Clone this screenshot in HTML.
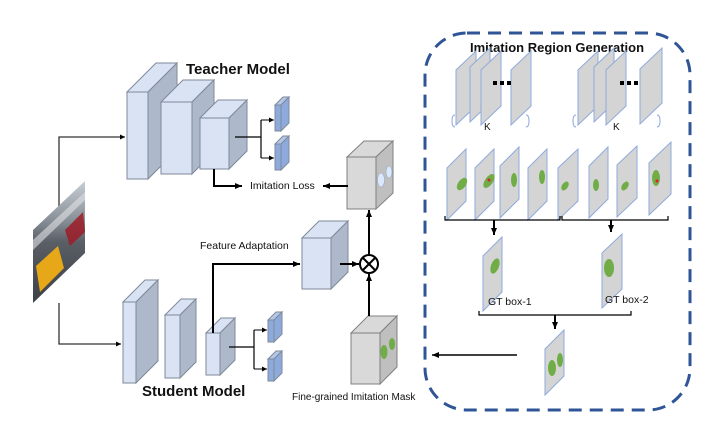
<!DOCTYPE html>
<html><head><meta charset="utf-8"><style>
html,body{margin:0;padding:0;background:#fff;}
svg{display:block;}
text{font-family:"Liberation Sans",sans-serif;fill:#111;}
</style></head><body>
<svg width="727" height="424" viewBox="0 0 727 424" xmlns="http://www.w3.org/2000/svg">
<defs>
<marker id="a" markerWidth="8" markerHeight="8" refX="7" refY="4" orient="auto" markerUnits="userSpaceOnUse"><path d="M0,1 L7,4 L0,7 z" fill="#000"/></marker>
<marker id="as" markerWidth="6" markerHeight="6" refX="5" refY="3" orient="auto" markerUnits="userSpaceOnUse"><path d="M0,0.5 L5,3 L0,5.5 z" fill="#000"/></marker>
<linearGradient id="img" x1="0" y1="0" x2="0" y2="1">
<stop offset="0" stop-color="#c8ced4"/><stop offset="0.3" stop-color="#8d949c"/><stop offset="0.5" stop-color="#5a5f66"/><stop offset="0.75" stop-color="#4a4e54"/><stop offset="1" stop-color="#3f4348"/>
</linearGradient>
</defs>

<!-- input lines -->
<polyline points="59,230 59,137 125,137" fill="none" stroke="#333" stroke-width="1.3" marker-end="url(#as)"/>
<polyline points="59,303 59,344 121,344" fill="none" stroke="#333" stroke-width="1.3" marker-end="url(#as)"/>

<!-- input image -->
<polygon points="33,230 85,181 85,253 33,303" fill="url(#img)"/>
<polygon points="36,266 58,246 64,268 40,292" fill="#e6a818"/>
<polygon points="65,230 83,212 85,232 70,246" fill="#9c1c28" opacity="0.85"/>
<polygon points="33,240 85,192 85,200 33,250" fill="#dfe3e6" opacity="0.6"/>

<g stroke="#7f8a99" stroke-width="1">
<polygon points="127,92 156,63 177,63 148,92" fill="#dae3f3"/><polygon points="148,92 177,63 177,150 148,179" fill="#adb9ca"/><rect x="127" y="92" width="21" height="87" fill="#dae3f3"/>
<polygon points="161,102 183,80 214,80 192,102" fill="#dae3f3"/><polygon points="192,102 214,80 214,152 192,174" fill="#adb9ca"/><rect x="161" y="102" width="31" height="72" fill="#dae3f3"/>
<polygon points="200,118 218,100 247,100 229,118" fill="#dae3f3"/><polygon points="229,118 247,100 247,151 229,169" fill="#adb9ca"/><rect x="200" y="118" width="29" height="51" fill="#dae3f3"/>
<polygon points="275,105 283,97 289,97 281,105" fill="#b4c7e7"/><polygon points="281,105 289,97 289,123 281,131" fill="#8ea9db"/><rect x="275" y="105" width="6" height="26" fill="#8ea9db"/>
<polygon points="275,144 283,136 289,136 281,144" fill="#b4c7e7"/><polygon points="281,144 289,136 289,162 281,170" fill="#8ea9db"/><rect x="275" y="144" width="6" height="26" fill="#8ea9db"/>
<polygon points="123,302 145,280 158,280 136,302" fill="#dae3f3"/><polygon points="136,302 158,280 158,361 136,383" fill="#adb9ca"/><rect x="123" y="302" width="13" height="81" fill="#dae3f3"/>
<polygon points="165,315 181,299 196,299 180,315" fill="#dae3f3"/><polygon points="180,315 196,299 196,362 180,378" fill="#adb9ca"/><rect x="165" y="315" width="15" height="63" fill="#dae3f3"/>
<polygon points="206,333 221,318 235,318 220,333" fill="#dae3f3"/><polygon points="220,333 235,318 235,360 220,375" fill="#adb9ca"/><rect x="206" y="333" width="14" height="42" fill="#dae3f3"/>
<polygon points="268,320 276,312 282,312 274,320" fill="#b4c7e7"/><polygon points="274,320 282,312 282,334 274,342" fill="#8ea9db"/><rect x="268" y="320" width="6" height="22" fill="#8ea9db"/>
<polygon points="268,359 276,351 282,351 274,359" fill="#b4c7e7"/><polygon points="274,359 282,351 282,373 274,381" fill="#8ea9db"/><rect x="268" y="359" width="6" height="22" fill="#8ea9db"/>
<polygon points="302,238 319,221 348,221 331,238" fill="#dae3f3"/><polygon points="331,238 348,221 348,272 331,289" fill="#adb9ca"/><rect x="302" y="238" width="29" height="51" fill="#dae3f3"/>
</g>
<g stroke="#808080" stroke-width="1">
<polygon points="347,157 364,141 393,141 376,157" fill="#d9d9d9"/><polygon points="376,157 393,141 393,193 376,209" fill="#bfbfbf"/><rect x="347" y="157" width="29" height="52" fill="#d9d9d9"/>
<polygon points="351,333 368,316 397,316 380,333" fill="#d9d9d9"/><polygon points="380,333 397,316 397,367 380,384" fill="#bfbfbf"/><rect x="351" y="333" width="29" height="51" fill="#d9d9d9"/>
</g>
<ellipse cx="381" cy="180" rx="3.5" ry="7" fill="#dae8fc" stroke="#9ab" stroke-width="0.6"/>
<ellipse cx="389" cy="172" rx="3" ry="6" fill="#dae8fc" stroke="#9ab" stroke-width="0.6"/>
<ellipse cx="384" cy="352" rx="3.5" ry="7" fill="#70ad47"/>
<ellipse cx="392" cy="344" rx="3" ry="6" fill="#70ad47"/>

<polyline points="235,137 261,137" fill="none" stroke="#000" stroke-width="1.2"/>
<line x1="261" y1="120" x2="261" y2="158" stroke="#000" stroke-width="1.2"/>
<line x1="261" y1="120" x2="274" y2="120" stroke="#000" marker-end="url(#as)"/>
<line x1="261" y1="158" x2="274" y2="158" stroke="#000" marker-end="url(#as)"/>
<line x1="229" y1="347" x2="254" y2="347" stroke="#000" stroke-width="1.2"/>
<line x1="254" y1="330" x2="254" y2="369" stroke="#000" stroke-width="1.2"/>
<line x1="254" y1="330" x2="267" y2="330" stroke="#000" marker-end="url(#as)"/>
<line x1="254" y1="369" x2="267" y2="369" stroke="#000" marker-end="url(#as)"/>

<polyline points="214,169 214,186 242,186" fill="none" stroke="#000" stroke-width="2" marker-end="url(#a)"/>
<text x="250" y="189" font-size="10.5">Imitation Loss</text>
<line x1="348" y1="186" x2="323" y2="186" stroke="#000" stroke-width="2" marker-end="url(#a)"/>

<text x="200" y="249" font-size="10.5">Feature Adaptation</text>
<polyline points="213,333 213,264 300,264" fill="none" stroke="#000" stroke-width="2" marker-end="url(#a)"/>
<line x1="340" y1="264" x2="359" y2="264" stroke="#000" stroke-width="2" marker-end="url(#a)"/>
<circle cx="369" cy="264" r="9" fill="#fff" stroke="#000" stroke-width="2"/>
<line x1="363" y1="258" x2="375" y2="270" stroke="#000" stroke-width="2"/>
<line x1="375" y1="258" x2="363" y2="270" stroke="#000" stroke-width="2"/>
<line x1="369" y1="255" x2="369" y2="210" stroke="#000" stroke-width="2" marker-end="url(#a)"/>
<line x1="369" y1="316" x2="369" y2="274" stroke="#000" stroke-width="2" marker-end="url(#a)"/>

<text x="186" y="74" font-size="15" font-weight="bold">Teacher Model</text>
<text x="142" y="396" font-size="15" font-weight="bold">Student Model</text>
<text x="292" y="400" font-size="10">Fine-grained Imitation Mask</text>

<rect x="425" y="33" width="265" height="377" rx="42" fill="none" stroke="#2f5597" stroke-width="3" stroke-dasharray="13,8"/>
<text x="557" y="52" font-size="13" font-weight="bold" text-anchor="middle">Imitation Region Generation</text>

<g fill="#d4d4d4" stroke="#8faadc" stroke-width="1">
<polygon points="456,125 456,70 476,51 476,106"/>
<polygon points="470,122 470,67 490,48 490,103"/>
<polygon points="481,125 481,70 501,51 501,106"/>
<polygon points="511,125 511,70 531,51 531,106"/>
<polygon points="578,125 578,70 598,51 598,106"/>
<polygon points="594,122 594,67 614,48 614,103"/>
<polygon points="606,125 606,70 626,51 626,106"/>
<polygon points="640,124 640,69 662,48 662,103"/>
</g>
<g fill="#000"><rect x="493" y="81" width="4" height="4"/><rect x="500" y="81" width="4" height="4"/><rect x="507" y="81" width="4" height="4"/>
<rect x="620" y="81" width="4" height="4"/><rect x="627" y="81" width="4" height="4"/><rect x="634" y="81" width="4" height="4"/></g>
<text x="484" y="130" font-size="10">K</text><text x="613" y="130" font-size="10">K</text>
<g fill="none" stroke="#8faadc" stroke-width="1"><path d="M455,115 q-3,0 -3,6 q0,6 3,6"/><path d="M526,115 q3,0 3,6 q0,6 -3,6"/><path d="M576,115 q-3,0 -3,6 q0,6 3,6"/><path d="M657,115 q3,0 3,6 q0,6 -3,6"/></g>

<g fill="#d4d4d4" stroke="#8faadc" stroke-width="1">
<polygon points="447,220 447,168 466,149 466,201"/>
<polygon points="475,220 475,168 494,149 494,201"/>
<polygon points="500,218 500,166 519,147 519,199"/>
<polygon points="528,220 528,168 547,149 547,201"/>
<polygon points="558,220 558,168 578,149 578,201"/>
<polygon points="589,218 589,166 608,147 608,199"/>
<polygon points="617,217 617,165 637,146 637,198"/>
<polygon points="649,215 649,163 671,142 671,194"/>
<polygon points="483,311 483,256 502,237 502,292"/>
<polygon points="602,308 602,253 622,234 622,289"/>
<polygon points="545,395 545,349 564,330 564,376"/>
</g>
<g fill="#70ad47">
<ellipse cx="462" cy="184" rx="4" ry="7" transform="rotate(35 462 184)"/>
<ellipse cx="489" cy="181" rx="4" ry="8" transform="rotate(35 489 181)"/>
<ellipse cx="514" cy="180" rx="3" ry="7"/>
<ellipse cx="542" cy="177" rx="3" ry="7"/>
<ellipse cx="565" cy="186" rx="3" ry="5" transform="rotate(35 565 186)"/>
<ellipse cx="596" cy="185" rx="3" ry="6"/>
<ellipse cx="625" cy="186" rx="3" ry="5" transform="rotate(35 625 186)"/>
<ellipse cx="656" cy="178" rx="4" ry="8"/>
<ellipse cx="495" cy="266" rx="4" ry="8" transform="rotate(20 495 266)"/>
<ellipse cx="609" cy="268" rx="5" ry="9"/>
<ellipse cx="552" cy="368" rx="4" ry="8"/>
<ellipse cx="560" cy="360" rx="3" ry="7"/>
</g>
<circle cx="489" cy="180" r="1.5" fill="#e02030"/><circle cx="657" cy="181" r="1.5" fill="#e02030"/>

<g fill="none" stroke="#000" stroke-width="1.2">
<path d="M445,216 v4 h115 v-4"/><path d="M562,216 v4 h106 v-4"/>
<path d="M479,311 v4 h152 v-4"/>
</g>
<line x1="494" y1="220" x2="494" y2="235" stroke="#000" stroke-width="2" marker-end="url(#a)"/>
<line x1="611" y1="220" x2="611" y2="232" stroke="#000" stroke-width="2" marker-end="url(#a)"/>
<line x1="555" y1="315" x2="555" y2="329" stroke="#000" stroke-width="2" marker-end="url(#a)"/>
<text x="488" y="305" font-size="10.5">GT box-1</text>
<text x="605" y="303" font-size="10.5">GT box-2</text>
<line x1="517" y1="355" x2="432" y2="355" stroke="#000" stroke-width="1.5" marker-end="url(#a)"/>
</svg>
</body></html>
